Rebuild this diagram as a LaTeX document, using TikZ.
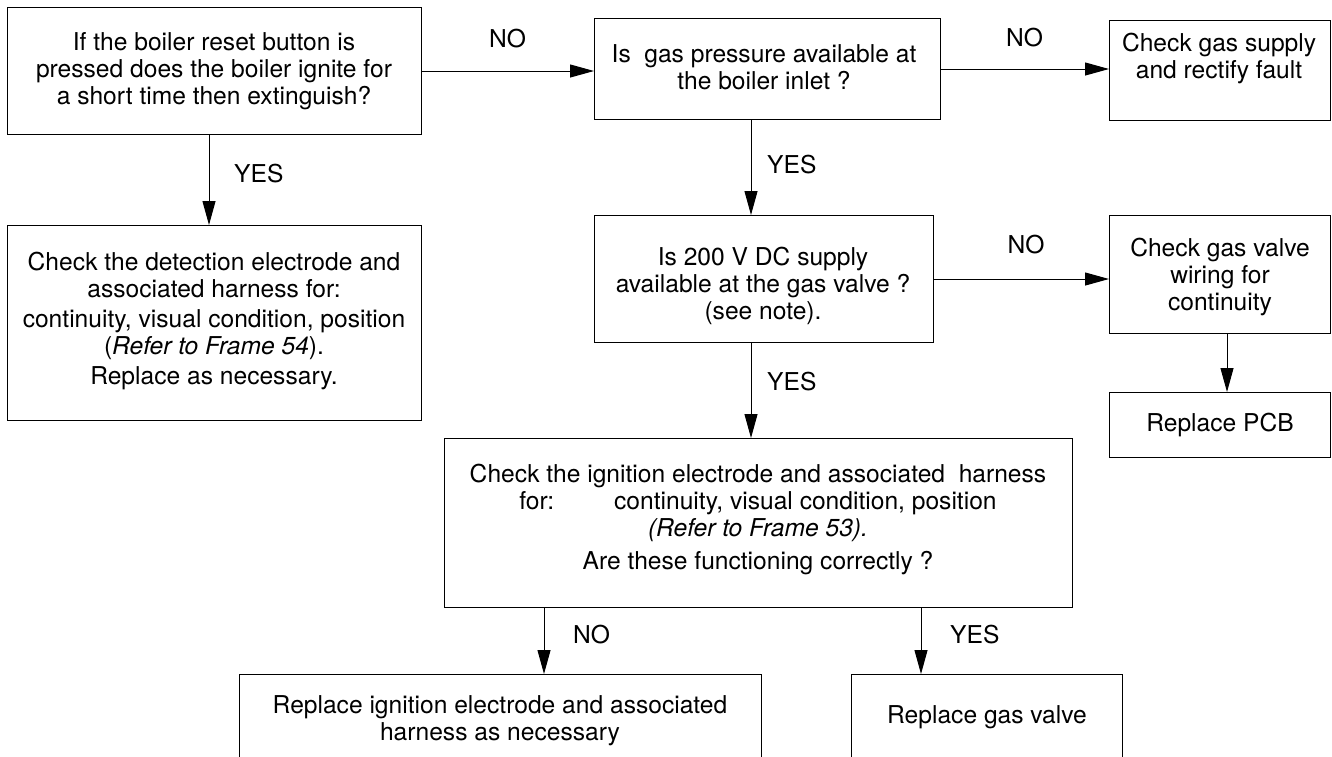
\documentclass[tikz,border=0pt]{standalone}
\usepackage{fontspec}
\setmainfont{TeX Gyre Heros}
\usetikzlibrary{arrows.meta}
\begin{document}
\begin{tikzpicture}[x=1pt,y=-1pt,
  box/.style={draw=black, line width=1pt, rectangle, inner sep=0pt, anchor=north west},
  txt/.style={align=center, inner sep=0pt, font=\fontsize{24.6}{27}\selectfont},
  lbl/.style={inner sep=0pt, font=\fontsize{24.6}{27}\selectfont},
  arr/.style={line width=1pt, -{Triangle[length=24pt,width=13pt]}}]
\useasboundingbox (0,0) rectangle (1332,756);

% boxes
\node[box, minimum width=414pt, minimum height=127pt] (b1) at (7,7) {};
\node[box, minimum width=346pt, minimum height=101pt] (b2) at (594,18) {};
\node[box, minimum width=221pt, minimum height=100pt] (b3) at (1109,20) {};
\node[box, minimum width=414pt, minimum height=195pt] (b4) at (7,225) {};
\node[box, minimum width=339pt, minimum height=127pt] (b5) at (594,215) {};
\node[box, minimum width=221pt, minimum height=118pt] (b6) at (1109,215) {};
\node[box, minimum width=221pt, minimum height=65pt] (b7) at (1109,392) {};
\node[box, minimum width=628pt, minimum height=169pt] (b8) at (444,438) {};
\node[box, minimum width=522pt, minimum height=100pt] (b9) at (239,674) {};
\node[box, minimum width=271pt, minimum height=100pt] (b10) at (851,674) {};

% texts
\node[txt] (t1) at (214,71.5) {If the boiler reset button is\\pressed does the boiler ignite for\\a short time then extinguish?};
\node[txt] (t2) at (764,67) {Is\ \ gas pressure available at\\the boiler inlet ?};
\node[txt] (t3) at (1219,58.5) {Check gas supply\\and rectify fault};
\node[txt] (t4) at (214,321) {Check the detection electrode and\\associated harness for:\\[3pt]continuity, visual condition, position\\(\textit{Refer to Frame 54}).\\[3pt]Replace as necessary.};
\node[txt] (t5) at (763,285.5) {Is 200 V DC supply\\available at the gas valve ?\\(see note).};
\node[txt] (t6) at (1220,277) {Check gas valve\\wiring for\\continuity};
\node[txt] (t7) at (1220,425) {Replace PCB};
\node[txt] (t8) at (758,519) {Check the ignition electrode and associated\ \ harness\\for:\hspace{60pt}continuity, visual condition, position\hspace{14pt}\\\textit{(Refer to Frame 53).}\\[6pt]Are these functioning correctly ?};
\node[txt] (t9) at (500,721) {Replace ignition electrode and associated\\harness as necessary};
\node[txt] (t10) at (987,717) {Replace gas valve};

% connector x positions
\coordinate (xe) at (209,0);
\coordinate (xa) at (751,0);
\coordinate (xb) at (1227,0);
\coordinate (xc) at (544,0);
\coordinate (xd) at (921,0);

% connectors
\draw[arr] (b1.east) -- (b1.east -| b2.west);
\draw[arr] (b2.east) -- (b2.east -| b3.west);
\draw[arr] (b1.south -| xe) -- (b4.north -| xe);
\draw[arr] (b2.south -| xa) -- (b5.north -| xa);
\draw[arr] (b5.east) -- (b5.east -| b6.west);
\draw[arr] (b5.south -| xa) -- (b8.north -| xa);
\draw[arr] (b6.south -| xb) -- (b7.north -| xb);
\draw[arr] (b8.south -| xc) -- (b9.north -| xc);
\draw[arr] (b8.south -| xd) -- (b10.north -| xd);

% labels
\node[lbl] (n1) at (507.5,39) {NO};
\node[lbl] (n2) at (1024.5,38) {NO};
\node[lbl] (n3) at (1026,245) {NO};
\node[lbl, anchor=west] (y1) at (234,174) {YES};
\node[lbl, anchor=west] (y2) at (767,165) {YES};
\node[lbl, anchor=west] (y3) at (767,382) {YES};
\node[lbl, anchor=west] (n4) at (573,635) {NO};
\node[lbl, anchor=west] (y4) at (950,635) {YES};
\end{tikzpicture}
\end{document}
